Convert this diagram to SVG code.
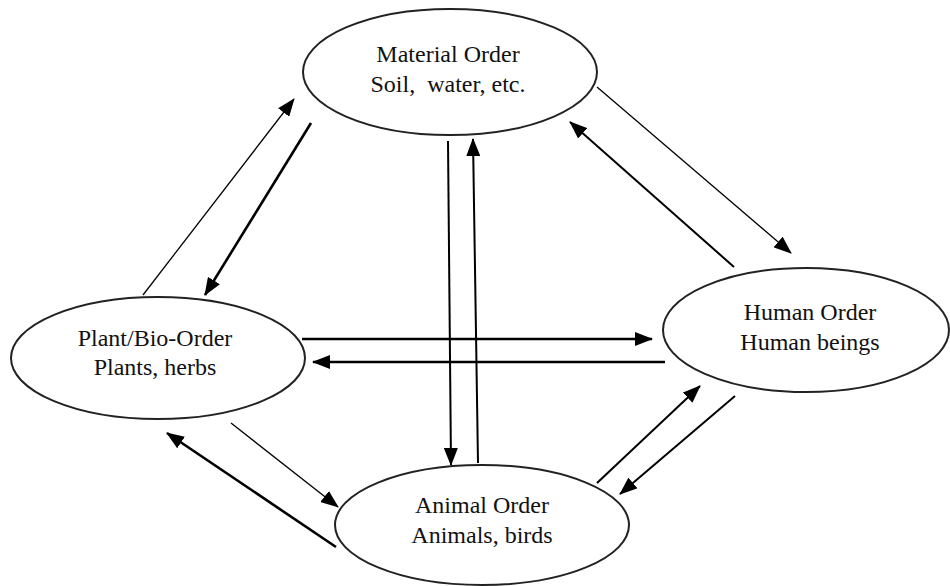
<svg xmlns="http://www.w3.org/2000/svg" width="950" height="586" viewBox="0 0 950 586">
<style>
.node ellipse{fill:#fff;stroke:#222;stroke-width:2}
.node text{font-family:"Times New Roman","Liberation Serif",Tinos,"DejaVu Serif",serif;font-size:24px;fill:#111;text-anchor:middle}
.c line{stroke:#000;fill:none}
.t1{stroke-width:1.3}
.t2{stroke-width:2}
.t3{stroke-width:2.6}
</style>
<defs>
<marker id="ah" markerUnits="userSpaceOnUse" markerWidth="18" markerHeight="14" refX="17" refY="7" orient="auto" viewBox="0 0 18 14">
<path d="M0,0 L18,7 L0,14 z" fill="#000"/>
</marker>
</defs>
<rect width="950" height="586" fill="#fff"/>
<g id="material" class="node">
<ellipse cx="450" cy="72" rx="147" ry="63"/>
<text x="448" y="62">Material Order</text>
<text x="448" y="92" xml:space="preserve">Soil,  water, etc.</text>
</g>
<g id="plant" class="node">
<ellipse cx="158" cy="358" rx="147" ry="61"/>
<text x="155" y="346">Plant/Bio-Order</text>
<text x="155" y="375">Plants, herbs</text>
</g>
<g id="human" class="node">
<ellipse cx="806" cy="330" rx="143" ry="62"/>
<text x="810" y="320">Human Order</text>
<text x="810" y="350">Human beings</text>
</g>
<g id="animal" class="node">
<ellipse cx="482" cy="525" rx="147" ry="60"/>
<text x="482" y="513">Animal Order</text>
<text x="482" y="543">Animals, birds</text>
</g>
<g id="connectors" class="c">
<line class="t1" x1="143" y1="295" x2="294" y2="99" marker-end="url(#ah)"/>
<line class="t3" x1="311" y1="123" x2="205" y2="295" marker-end="url(#ah)"/>
<line class="t1" x1="597" y1="87" x2="791" y2="253" marker-end="url(#ah)"/>
<line class="t2" x1="734" y1="267" x2="570" y2="122" marker-end="url(#ah)"/>
<line class="t3" x1="302" y1="339" x2="652" y2="339" marker-end="url(#ah)"/>
<line class="t3" x1="665" y1="362" x2="313" y2="362" marker-end="url(#ah)"/>
<line class="t2" x1="448" y1="141" x2="451" y2="465" marker-end="url(#ah)"/>
<line class="t2" x1="478" y1="463" x2="473" y2="139" marker-end="url(#ah)"/>
<line class="t1" x1="231" y1="423" x2="338" y2="507" marker-end="url(#ah)"/>
<line class="t3" x1="336" y1="547" x2="167" y2="433" marker-end="url(#ah)"/>
<line class="t2" x1="597" y1="483" x2="700" y2="386" marker-end="url(#ah)"/>
<line class="t2" x1="735" y1="396" x2="620" y2="494" marker-end="url(#ah)"/>
</g>
</svg>
